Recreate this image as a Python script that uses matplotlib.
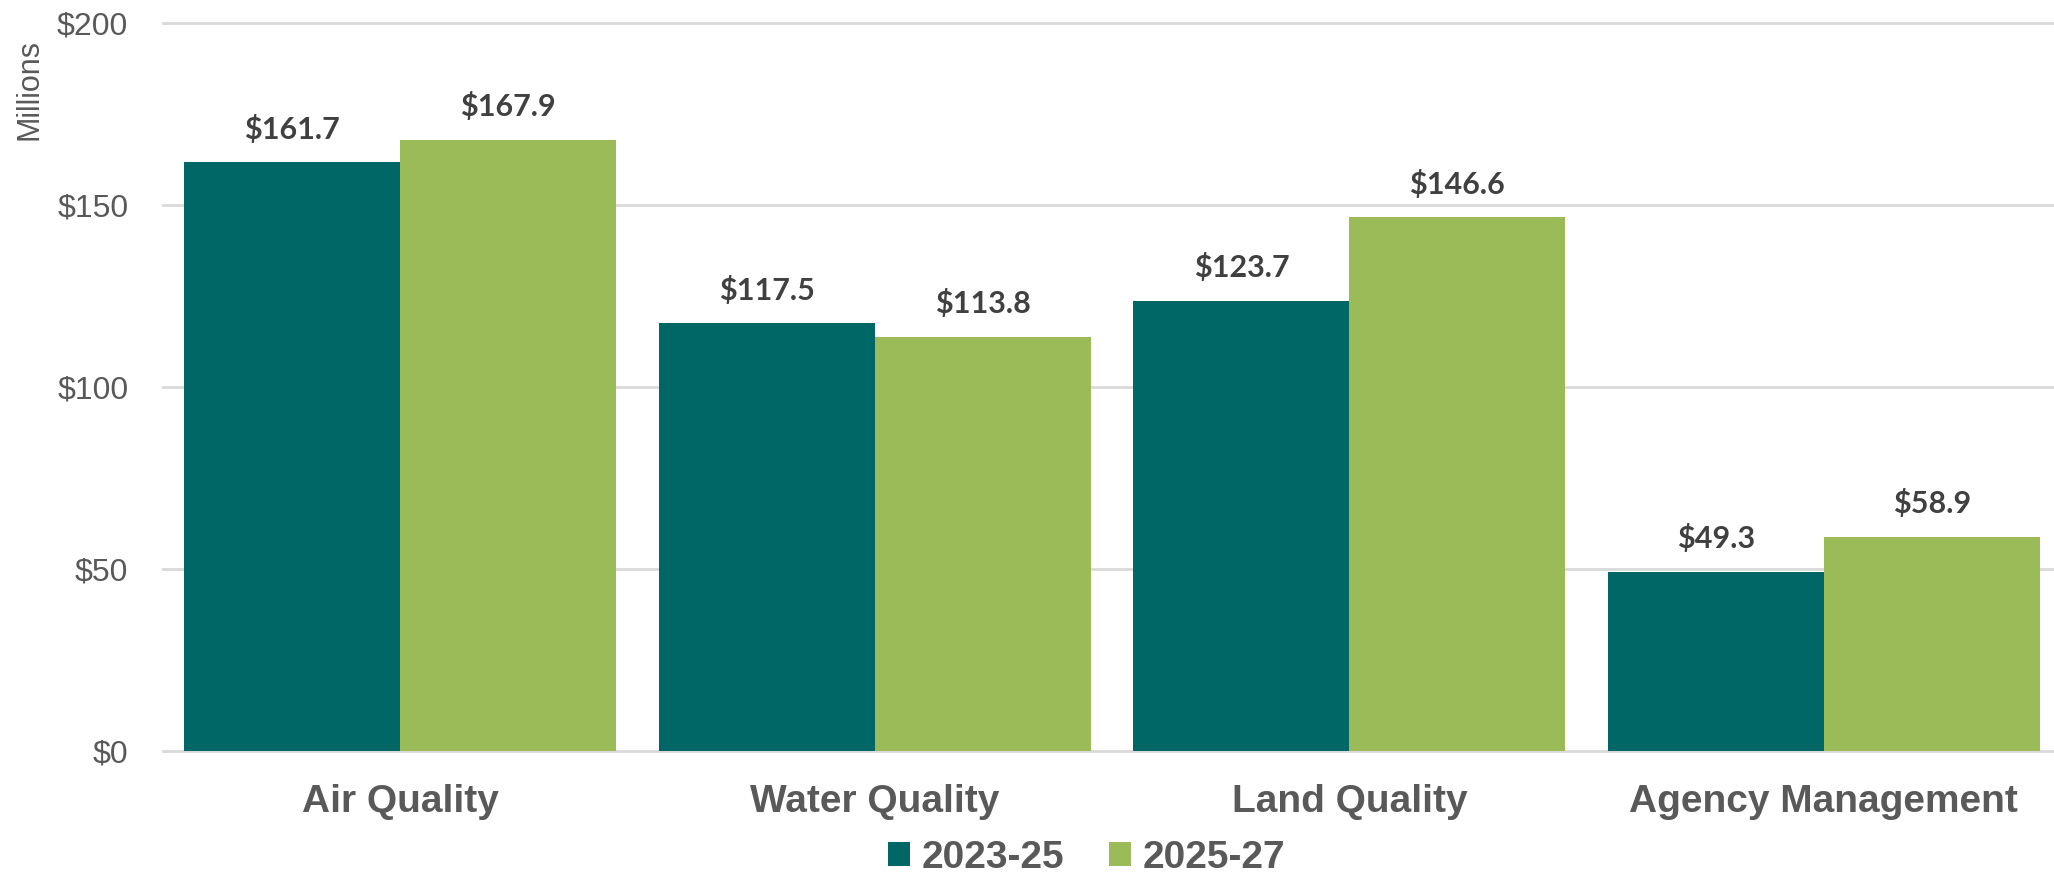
import matplotlib
matplotlib.use("Agg")
import matplotlib.pyplot as plt
import numpy as np

# data (millions of dollars)
categories = ["Air Quality", "Water Quality", "Land Quality", "Agency Management"]
series_names = ["2023-25", "2025-27"]
vals_2023_25 = [161.7, 117.5, 123.7, 49.3]
vals_2025_27 = [167.9, 113.8, 146.6, 58.9]
yticks = [0, 50, 100, 150, 200]

teal = "#006666"
green = "#9BBB59"
grid_col = "#D9D9D9"
txt_col = "#595959"
lbl_col = "#404040"

plt.rcParams["font.family"] = ["Liberation Sans", "DejaVu Sans"]

fig = plt.figure(figsize=(20.54, 8.72), dpi=100)
ax = fig.add_axes([0.0794, 0.1388, 0.9206, 0.8348])

x = np.arange(len(categories))
w = 0.455
b1 = ax.bar(x - w / 2, vals_2023_25, w, color=teal, label=series_names[0], zorder=3)
b2 = ax.bar(x + w / 2, vals_2025_27, w, color=green, label=series_names[1], zorder=3)

# data labels
for bars in (b1, b2):
    for r in bars:
        ax.annotate("${:.1f}".format(r.get_height()),
                    (r.get_x() + r.get_width() / 2, r.get_height()),
                    xytext=(0, 17), textcoords="offset points",
                    ha="center", va="baseline", fontsize=22,
                    fontweight="bold", color=lbl_col, family=["Lato", "DejaVu Sans"])

ax.set_xlim(-0.5, 3.485)
ax.set_ylim(0, 200)
ax.set_yticks(yticks)
ax.set_yticklabels(["${}".format(v) for v in yticks])
ax.set_xticks(x)
ax.set_xticklabels(categories, fontweight="bold", fontsize=28, color=txt_col)
ax.tick_params(axis="y", length=0, pad=25, labelsize=23, labelcolor=txt_col)
ax.tick_params(axis="x", length=0, pad=24)

for s in ax.spines.values():
    s.set_visible(False)
ax.yaxis.grid(True, color=grid_col, linewidth=2)
ax.set_axisbelow(True)
for gl in ax.get_ygridlines():
    gl.set_clip_on(False)

fig.text(29 / 2054, 1 - 90 / 872, "Millions", rotation=90, ha="center", va="center",
         fontsize=22, color=txt_col)

leg = fig.legend(loc="center", bbox_to_anchor=(0.529, 0.016), ncol=2, frameon=False,
                 prop={"weight": "bold", "size": 28}, handlelength=0.57, handleheight=0.57,
                 handletextpad=0.28, columnspacing=1.16, borderaxespad=0, borderpad=0)
for t in leg.get_texts():
    t.set_color(txt_col)

fig.savefig("out.png", dpi=100)
